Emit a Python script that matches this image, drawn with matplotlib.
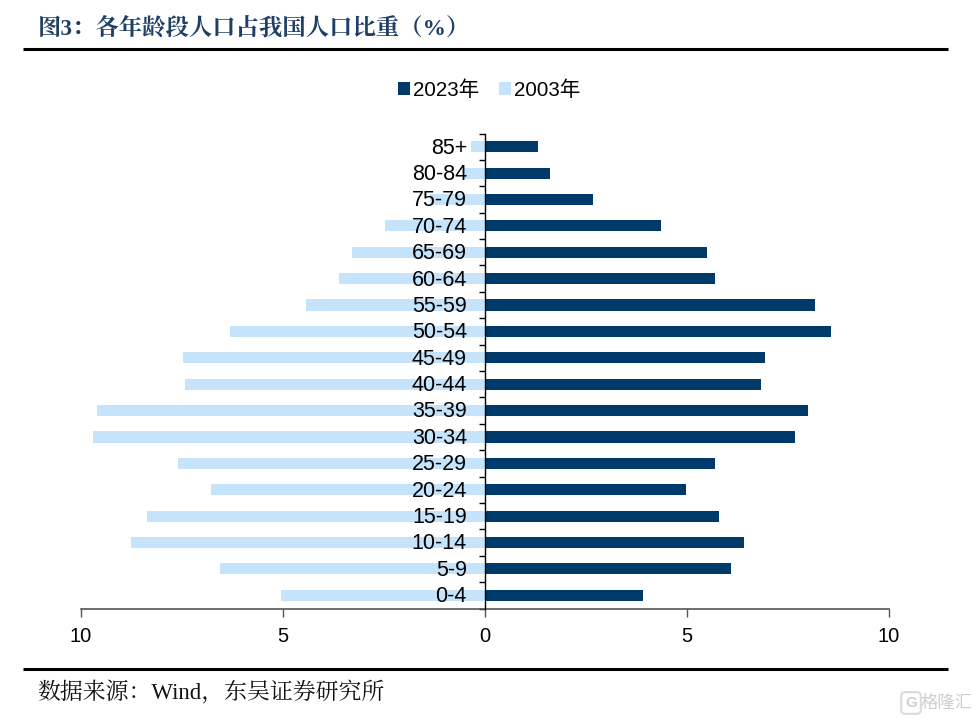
import numpy as np
import matplotlib
matplotlib.use("Agg")
import matplotlib.pyplot as plt

plt.rcParams['font.family'] = ['Liberation Sans', 'Noto Sans CJK SC']

ages = ['0-4', '5-9', '10-14', '15-19', '20-24', '25-29', '30-34', '35-39', '40-44',
        '45-49', '50-54', '55-59', '60-64', '65-69', '70-74', '75-79', '80-84', '85+']
pop_2023 = [3.9, 6.1, 6.4, 5.8, 4.97, 5.7, 7.67, 8.0, 6.83,
            6.93, 8.56, 8.17, 5.7, 5.5, 4.35, 2.67, 1.6, 1.3]
pop_2003 = [5.05, 6.56, 8.76, 8.37, 6.78, 7.6, 9.7, 9.6, 7.43,
            7.48, 6.31, 4.43, 3.61, 3.29, 2.48, 1.35, 0.55, 0.35]
xticks = [-10, -5, 0, 5, 10]

W, H = 979, 720
fig = plt.figure(figsize=(W / 100, H / 100), dpi=100)

# axes placed by pixel position of the plot area
left, right, top, bottom = 81, 889, 133.5, 608.5
ax = fig.add_axes([left / W, 1 - bottom / H, (right - left) / W, (bottom - top) / H])

y = np.arange(len(ages))
ax.barh(y, pop_2023, height=0.42, color='#003A6B', label='2023年', zorder=2)
ax.barh(y, -np.array(pop_2003), height=0.42, color='#C5E3FB', label='2003年', zorder=2)

ax.set_xlim(-10, 10)
ax.set_ylim(-0.5, len(ages) - 0.5)
ax.set_xticks(xticks)
ax.set_xticklabels([str(abs(t)) for t in xticks], fontsize=14.5)
ax.tick_params(axis='x', length=6, width=1, color='#555555', pad=7)

# age axis runs up the middle, ticks sit between the bars
ax.spines['left'].set_position(('data', 0))
ax.spines['left'].set_linewidth(1)
ax.spines['left'].set_zorder(4)
ax.spines['right'].set_visible(False)
ax.spines['top'].set_visible(False)
ax.spines['bottom'].set_color('#555555')
ax.spines['bottom'].set_linewidth(1.2)
ax.set_yticks(np.arange(len(ages) + 1) - 0.5)
ax.set_yticklabels([])
ax.tick_params(axis='y', length=4, width=1, direction='out')
for i, a in enumerate(ages):
    ax.annotate(a, (0, i), xytext=(-13, -1), textcoords='offset points', ha='right', va='center',
                fontsize=15.5, color='black', zorder=5)

ax.legend(loc='center', bbox_to_anchor=(489 / W, 1 - 90 / H), bbox_transform=fig.transFigure, ncol=2,
          frameon=False, fontsize=14.8, handlelength=0.6, handleheight=0.6,
          handletextpad=0.15, columnspacing=0.95, borderpad=0)

# title, source and the rules around them
serif = ['Liberation Serif', 'Noto Serif CJK SC', 'Noto Sans CJK SC']
fig.text(38 / W, 1 - 28 / H, '图3：各年龄段人口占我国人口比重（%）', fontsize=16.8, fontweight='bold',
         color='#1F3F66', va='center', family=serif)
fig.text(37 / W, 1 - 692 / H, '数据来源：Wind，东吴证券研究所', fontsize=16.5, color='#111111',
         va='center', family=serif)
fig.add_artist(plt.Line2D([23 / W, 948 / W], [1 - 49 / H] * 2, color='black', lw=2.2, solid_capstyle='butt'))
fig.add_artist(plt.Line2D([23 / W, 948 / W], [1 - 669 / H] * 2, color='black', lw=2.2, solid_capstyle='butt'))

# watermark in the corner
fig.text(911 / W, 1 - 703 / H, 'G', fontsize=11, color='#CFCFCF', ha='center', va='center', fontweight='bold',
         bbox=dict(boxstyle='round,pad=0.25', fc='none', ec='#DADADA', lw=1.5))
fig.text(973 / W, 1 - 703 / H, '格隆汇', fontsize=12.5, color='#CFCFCF', ha='right', va='center')

fig.savefig('out.png', dpi=100)
